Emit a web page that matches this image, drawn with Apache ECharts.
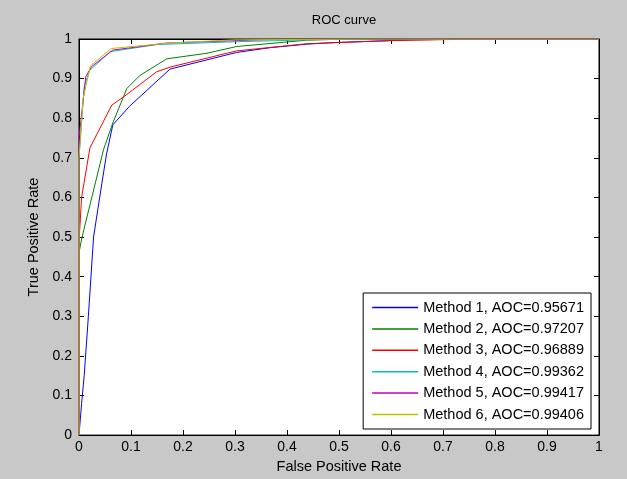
<!DOCTYPE html>
<html>
<head>
<meta charset="utf-8">
<script src="https://cdn.jsdelivr.net/npm/echarts@6/dist/echarts.min.js"></script>
<style>
  html, body { margin: 0; padding: 0; background: #c8c8c8; }
  #roc { width: 627px; height: 479px; }
</style>
</head>
<body>
<div id="roc"></div>
<script>
// ROC points, [false positive rate, true positive rate]
var method1 = [[0,0],[0.005,0.08],[0.01,0.15],[0.018,0.30],[0.028,0.50],[0.044,0.636],[0.053,0.71],[0.065,0.783],
    [0.097,0.83],[0.175,0.924],[0.303,0.966],[0.367,0.978],[0.438,0.987],[0.49,0.991],[0.579,0.995],[0.642,0.998],[0.77,1],[1,1]];
var method2 = [[0,0],[0,0.46],[0.005,0.495],[0.047,0.72],[0.065,0.788],[0.092,0.875],[0.117,0.908],[0.169,0.95],
    [0.246,0.964],[0.303,0.981],[0.438,0.997],[0.52,1],[1,1]];
var method3 = [[0,0],[0,0.47],[0.001,0.51],[0.005,0.60],[0.021,0.725],[0.063,0.833],[0.088,0.856],[0.149,0.917],
    [0.175,0.929],[0.303,0.97],[0.438,0.988],[0.6,0.996],[0.77,1],[1,1]];
var method4 = [[0,0],[0,0.70],[0.01,0.88],[0.02,0.92],[0.06,0.968],[0.15,0.986],[0.3,0.993],[0.5,1],[1,1]];
var method5 = [[0,0],[0,0.75],[0.013,0.905],[0.024,0.93],[0.065,0.972],[0.17,0.99],[0.35,0.998],[0.42,1],[1,1]];
var method6 = [[0,0],[0,0.70],[0.008,0.85],[0.022,0.932],[0.062,0.976],[0.175,0.99],[0.3,0.998],[0.6,1],[1,1]];

var methodNames = ['Method 1', 'Method 2', 'Method 3', 'Method 4', 'Method 5', 'Method 6'];
var aocValues = ['0.95671', '0.97207', '0.96889', '0.99362', '0.99417', '0.99406'];
var methodData = [method1, method2, method3, method4, method5, method6];
var colors = ['#0000ff', '#008000', '#ff0000', '#00bfbf', '#bf00bf', '#bfbf00'];

var font = 'Liberation Sans, Arial, sans-serif';
var chart = echarts.init(document.getElementById('roc'));

var series = methodData.map(function (pts, i) {
    return {
        type: 'line',
        name: methodNames[i] + ', AOC=' + aocValues[i],
        data: pts,
        symbol: 'none',
        silent: true,
        lineStyle: { color: colors[i], width: 1 },
        itemStyle: { color: colors[i] }
    };
});

function tickAxis(pos, isMain, extra) {
    var ax = {
        type: 'value',
        position: pos,
        min: 0,
        max: 1,
        interval: 0.1,
        splitLine: { show: false },
        axisLine: { show: true, onZero: false, lineStyle: { color: '#000', width: 1 } },
        axisTick: { show: true, inside: true, length: 5, lineStyle: { color: '#000' } },
        axisLabel: { show: isMain, color: '#000', fontSize: 14, fontFamily: font }
    };
    for (var k in extra) ax[k] = extra[k];
    return ax;
}

chart.setOption({
    backgroundColor: '#c8c8c8',
    animation: false,
    title: {
        text: 'ROC curve',
        left: 339,
        textAlign: 'center',
        top: 9,
        textStyle: { fontSize: 13, fontWeight: 'normal', color: '#000', fontFamily: font }
    },
    grid: {
        left: 79, right: 28, top: 39, bottom: 43,
        show: true,
        backgroundColor: '#fff',
        borderColor: '#000',
        borderWidth: 1
    },
    legend: {
        orient: 'vertical',
        right: 36,
        bottom: 50,
        backgroundColor: '#fff',
        borderColor: '#000',
        borderWidth: 1,
        padding: [7, 7, 7, 9],
        icon: 'rect',
        itemWidth: 46,
        itemHeight: 1.5,
        itemGap: 6.4,
        textStyle: { fontSize: 14.5, lineHeight: 14, color: '#000', fontFamily: font },
        data: series.map(function (s) { return s.name; })
    },
    xAxis: [
        tickAxis('bottom', true, {
            name: 'False Positive Rate',
            nameLocation: 'middle',
            nameGap: 23,
            nameTextStyle: { fontSize: 14.5, color: '#000', fontFamily: font },
            axisLabel: { show: true, color: '#000', fontSize: 14, fontFamily: font, margin: 5 }
        }),
        tickAxis('top', false, {})
    ],
    yAxis: [
        tickAxis('left', true, {
            name: 'True Positive Rate',
            nameLocation: 'middle',
            nameGap: 38,
            nameTextStyle: { fontSize: 14.5, color: '#000', fontFamily: font },
            axisLabel: { show: true, color: '#000', fontSize: 14, fontFamily: font, margin: 7 }
        }),
        tickAxis('right', false, {})
    ],
    series: series
});
</script>
</body>
</html>
